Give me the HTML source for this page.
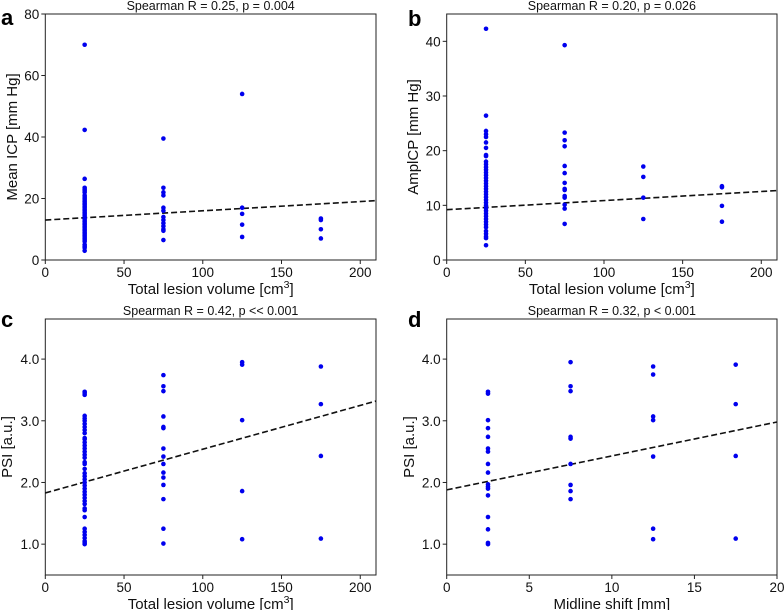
<!DOCTYPE html>
<html><head><meta charset="utf-8"><style>
html,body{margin:0;padding:0;background:#fff;}
svg{display:block;font-family:"Liberation Sans","DejaVu Sans",sans-serif;}
</style></head><body>
<svg id="fig" width="784" height="610" viewBox="0 0 784 610"></svg>
<script>
// Panel a data
const aX = [25,25,25,25,25,25,25,25,25,25,25,25,25,25,25,25,25,25,25,25,25,25,25,25,25,25,25,25,25,25,25,25,25,25,25,25,25,25,25,25,25,25,75,75,75,75,75,75,75,75,75,75,75,75,75,125,125,125,125,125,175,175,175,175];
const aY = [70,42.3,26.4,23.5,23,22.5,22,21,20.5,20,19.5,19,18.5,18,17.5,17,16.5,16,15.5,15,14.5,14,13.5,13,12.5,12,11.5,11,10.5,10,9.5,9,8.5,8,7.5,7,6.5,6,5,4.5,4,3,39.5,23.5,22,21,17,16,14,13,12,11,10,9.5,6.5,54,17,15,11.5,7.5,13.5,13,10,7];
const aFit = [13,19.3];
// Panel b data
const bX = [25,25,25,25,25,25,25,25,25,25,25,25,25,25,25,25,25,25,25,25,25,25,25,25,25,25,25,25,25,25,25,25,25,25,25,25,25,25,25,75,75,75,75,75,75,75,75,75,75,75,75,75,75,125,125,125,125,175,175,175,175];
const bY = [42.3,26.4,23.6,23,22.5,21.5,20.5,19.2,19,18,17.5,17,16.5,16,15.5,15,14.5,14,13.5,13,12.5,12,11.5,11,10.5,10,9.5,9,8.5,8,7.5,7,6.5,6,5.3,4.8,4.3,4,2.7,39.3,23.3,21.9,20.8,17.2,15.9,14.1,13,12.8,11.7,11.4,10.1,9.4,6.6,17.1,15.2,11.4,7.5,13.5,13.3,9.9,7.0];
const bFit = [9.2,12.7];
// Panel c data
const cX = [25,25,25,25,25,25,25,25,25,25,25,25,25,25,25,25,25,25,25,25,25,25,25,25,25,25,25,25,25,25,25,25,25,25,25,25,25,25,25,25,25,25,75,75,75,75,75,75,75,75,75,75,75,75,75,75,75,125,125,125,125,125,175,175,175,175];
const cY = [3.47,3.45,3.42,3.08,3.04,3.0,2.95,2.9,2.85,2.8,2.72,2.7,2.65,2.6,2.55,2.5,2.45,2.4,2.33,2.3,2.22,2.15,2.1,2.05,2.0,1.95,1.9,1.85,1.8,1.75,1.7,1.65,1.58,1.55,1.44,1.25,1.2,1.15,1.1,1.05,1.02,1.0,3.74,3.56,3.48,3.07,2.9,2.88,2.55,2.42,2.3,2.16,2.08,1.96,1.73,1.25,1.01,3.95,3.91,3.01,1.86,1.08,3.88,3.27,2.43,1.09];
const cFit = [1.83,3.32];
// Panel d data
const dX = [2.5,2.5,2.5,2.5,2.5,2.5,2.5,2.5,2.5,2.5,2.5,2.5,2.5,2.5,2.5,2.5,2.5,7.5,7.5,7.5,7.5,7.5,7.5,7.5,7.5,7.5,12.5,12.5,12.5,12.5,12.5,12.5,12.5,17.5,17.5,17.5,17.5];
const dY = [3.47,3.44,3.01,2.88,2.74,2.55,2.5,2.3,2.16,1.97,1.93,1.9,1.79,1.44,1.24,1.02,1.0,3.95,3.56,3.48,2.74,2.71,2.3,1.96,1.86,1.73,3.88,3.75,3.07,3.01,2.42,1.25,1.08,3.91,3.27,2.43,1.09];
const dFit = [1.88,2.98];
const volTicks = [0,50,100,150,200];
const aTicks = [0,20,40,60,80];
const bTicks = [0,10,20,30,40];
const psiTicks = [1.0,2.0,3.0,4.0];
const mlsTicks = [0,5,10,15,20];

const NS='http://www.w3.org/2000/svg';
const svg=document.getElementById('fig');
function mk(tag,attrs,parent){const e=document.createElementNS(NS,tag);for(const k in attrs)e.setAttribute(k,attrs[k]);(parent||svg).appendChild(e);return e;}

const panels=[
 {id:'a',L:45.3,R:376,T:14,B:260,x0:0,x1:210,y0:0,y1:80,xs:aX,ys:aY,fit:aFit,xt:volTicks,yt:aTicks,dec:0,title:'Spearman R = 0.25, p = 0.004',yl:'Mean ICP [mm Hg]',xl:'vol',ylx:17,lx:1,ly:25},
 {id:'b',L:446.7,R:777,T:14,B:260,x0:0,x1:210,y0:0,y1:45,xs:bX,ys:bY,fit:bFit,xt:volTicks,yt:bTicks,dec:0,title:'Spearman R = 0.20, p = 0.026',yl:'AmplCP [mm Hg]',xl:'vol',ylx:418,lx:408,ly:26},
 {id:'c',L:45.3,R:376,T:319,B:575,x0:0,x1:210,y0:0.5,y1:4.65,xs:cX,ys:cY,fit:cFit,xt:volTicks,yt:psiTicks,dec:1,title:'Spearman R = 0.42, p << 0.001',yl:'PSI [a.u.]',xl:'vol',ylx:12,lx:1,ly:327},
 {id:'d',L:446.7,R:777,T:319,B:575,x0:0,x1:20,y0:0.5,y1:4.65,xs:dX,ys:dY,fit:dFit,xt:mlsTicks,yt:psiTicks,dec:1,title:'Spearman R = 0.32, p < 0.001',yl:'PSI [a.u.]',xl:'Midline shift [mm]',ylx:414,lx:408,ly:327}
];

panels.forEach(p=>{
 const g=mk('g',{});
 
 
 const sx=v=>p.L+(v-p.x0)/(p.x1-p.x0)*(p.R-p.L);
 const sy=v=>p.B-(v-p.y0)/(p.y1-p.y0)*(p.B-p.T);
 const fr=mk('rect',{x:p.L,y:p.T,width:p.R-p.L,height:p.B-p.T,fill:'none',stroke:'#222','stroke-width':1},g);
 
 
 p.xt.forEach(t=>{
  const x=sx(t);
  mk('line',{x1:x,x2:x,y1:p.B,y2:p.B+4,stroke:'#222'},g);
  const tx=mk('text',{x:x,y:p.B+17,'font-size':13.5,'text-anchor':'middle',fill:'#111'},g);
  tx.textContent=String(t);
  
  
 });
 p.yt.forEach(t=>{
  const y=sy(t);
  mk('line',{x1:p.L-4,x2:p.L,y1:y,y2:y,stroke:'#222'},g);
  const tx=mk('text',{x:p.L-6,y:y+5,'font-size':13.5,'text-anchor':'end',fill:'#111'},g);
  tx.textContent=t.toFixed(p.dec);
  
  
 });
 const ln=mk('line',{x1:sx(p.x0),y1:sy(p.fit[0]),x2:sx(p.x1),y2:sy(p.fit[1]),stroke:'#111','stroke-width':1.6,'stroke-dasharray':'6,3'},g);
 
 
 p.xs.forEach((xv,i)=>{
  const c=mk('circle',{cx:sx(xv),cy:sy(p.ys[i]),r:2.3,fill:'#0000ee'},g);
  
  
 });
 const ti=mk('text',{x:(p.L+p.R)/2,y:p.T-4,'font-size':12.5,'text-anchor':'middle',fill:'#111'},g);
 ti.textContent=p.title;
 
 
 const lt=mk('text',{x:p.lx,y:p.ly,'font-size':22,'font-weight':'bold',fill:'#000'},g);
 lt.textContent=p.id;
 
 
 const cy=(p.T+p.B)/2;
 const yl=mk('text',{x:p.ylx,y:cy,'font-size':15,'text-anchor':'middle',fill:'#111',transform:'rotate(-90 '+p.ylx+' '+cy+')'},g);
 yl.textContent=p.yl;
 
 
 const xl=mk('text',{x:(p.L+p.R)/2,y:p.B+34,'font-size':15,'text-anchor':'middle',fill:'#111'},g);
 if(p.xl==='vol'){
  xl.appendChild(document.createTextNode('Total lesion volume [cm'));
  const s=mk('tspan',{'font-size':10.5,dy:-6},xl);s.textContent='3';
  const e=mk('tspan',{dy:6},xl);e.textContent=']';
 } else xl.textContent=p.xl;
 
 
});
</script>
</body></html>
